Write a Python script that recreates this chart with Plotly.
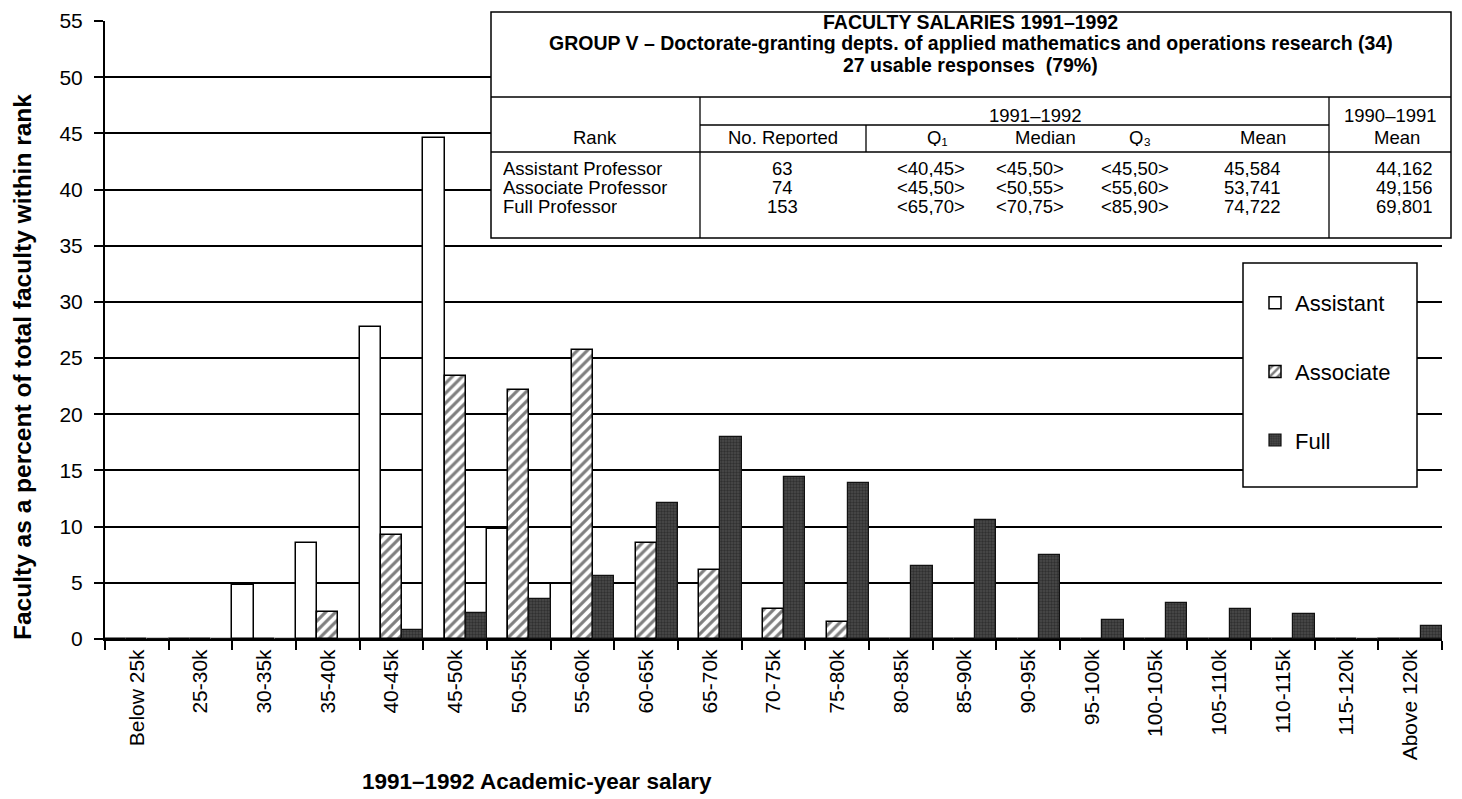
import plotly.graph_objects as go

# ---------------- data ----------------
categories = ["Below 25k", "25-30k", "30-35k", "35-40k", "40-45k", "45-50k", "50-55k",
              "55-60k", "60-65k", "65-70k", "70-75k", "75-80k", "80-85k", "85-90k",
              "90-95k", "95-100k", "100-105k", "105-110k", "110-115k", "115-120k",
              "Above 120k"]
assistant = [0, 0, 4.8, 8.5, 27.8, 44.6, 9.8, 4.9, 0, 0, 0, 0, 0, 0, 0, 0, 0, 0, 0, 0, 0]
associate = [0, 0, 0, 2.4, 9.3, 23.4, 22.2, 25.7, 8.5, 6.1, 2.7, 1.5, 0, 0, 0, 0, 0, 0, 0, 0, 0]
full = [0, 0, 0, 0, 0.8, 2.3, 3.6, 5.6, 12.1, 18.0, 14.4, 13.9, 6.5, 10.6, 7.5, 1.7,
        3.2, 2.7, 2.2, 0, 1.2]
y_ticks = [0, 5, 10, 15, 20, 25, 30, 35, 40, 45, 50, 55]

table_title = ["FACULTY SALARIES 1991\u20131992",
               "GROUP V \u2013 Doctorate-granting depts. of applied mathematics and operations research (34)",
               "27 usable responses  (79%)"]
table_ranks = ["Assistant Professor", "Associate Professor", "Full Professor"]
table_reported = ["63", "74", "153"]
table_q1 = ["<40,45>", "<45,50>", "<65,70>"]
table_median = ["<45,50>", "<50,55>", "<70,75>"]
table_q3 = ["<45,50>", "<55,60>", "<85,90>"]
table_mean = ["45,584", "53,741", "74,722"]
table_prev_mean = ["44,162", "49,156", "69,801"]

FONT = "Liberation Sans, Arial, Helvetica, sans-serif"

# ---------------- geometry helpers ----------------
# the page body has an 8px margin, so the figure is drawn 8px right/down
OFF = 8
W, H = 1462 - OFF, 799 - OFF
L, R, T, B = 105 - OFF, 1442 - OFF, 21 - OFF, 639 - OFF


def px_x(px):
    return (px - OFF - L) / (R - L)


def px_y(py):
    return (B - (py - OFF)) / (B - T)


fig = go.Figure()
fig.add_trace(go.Bar(
    x=categories, y=assistant, name="Assistant", legendgroup="a",
    marker=dict(color="white", line=dict(color="black", width=1.5)),
))
fig.add_trace(go.Bar(
    x=categories, y=associate, name="Associate", legendgroup="b",
    marker=dict(color="white", line=dict(color="black", width=1.5),
                pattern=dict(shape="/", fgcolor="black", bgcolor="white", size=7, solidity=0.45)),
))
fig.add_trace(go.Bar(
    x=categories, y=full, name="Full", legendgroup="c",
    marker=dict(color="#383838", line=dict(color="#111111", width=1.2),
                pattern=dict(shape=".", fgcolor="#141414", bgcolor="#4c4c4c", size=3, solidity=0.5)),
))

shapes = []
annotations = []

# table box and lines
tx0, tx1, ty0, ty1 = 491, 1451, 12, 238
shapes.append(dict(type="rect", xref="paper", yref="paper", layer="above",
                   x0=px_x(tx0), x1=px_x(tx1), y0=px_y(ty1), y1=px_y(ty0),
                   fillcolor="white", line=dict(color="black", width=1.5)))


def hline(x0, x1, y, w=1.3):
    shapes.append(dict(type="line", xref="paper", yref="paper", layer="above",
                       x0=px_x(x0), x1=px_x(x1), y0=px_y(y), y1=px_y(y),
                       line=dict(color="black", width=w)))


def vline(x, y0, y1, w=1.3):
    shapes.append(dict(type="line", xref="paper", yref="paper", layer="above",
                       x0=px_x(x), x1=px_x(x), y0=px_y(y0), y1=px_y(y1),
                       line=dict(color="black", width=w)))


hline(tx0, tx1, 97)
hline(700, 1329, 125)
hline(tx0, tx1, 152)
vline(700, 97, ty1)
vline(866, 125, 152)
vline(1329, 97, ty1)


def text(s, x, y, size=18.5, bold=False, xanchor="center", angle=0, h=None):
    d = dict(
        text=f"<b>{s}</b>" if bold else s, xref="paper", yref="paper",
        x=px_x(x), y=px_y(y), xanchor=xanchor, yanchor="middle", showarrow=False,
        textangle=angle, borderpad=0,
        font=dict(family=FONT, size=size, color="black"))
    if h is not None:
        d["height"] = h
    annotations.append(d)


for s, yy in zip(table_title, [23, 44, 65]):
    text(s, 971, yy, size=19.5, bold=True, h=20.5)

text("1991\u20131992", 1035, 115, h=18)
text("1990\u20131991", 1390, 115, h=18)
headers = [("Rank", 595), ("No. Reported", 783), ("Q\u2081", 937), ("Median", 1045),
           ("Q\u2083", 1140), ("Mean", 1263), ("Mean", 1397)]
for s, xx in headers:
    text(s, xx, 137, h=18)

row_y = [168, 187, 206]
for i, yy in enumerate(row_y):
    text(table_ranks[i], 502, yy, xanchor="left", h=18)
    text(table_reported[i], 783, yy, h=18)
    text(table_q1[i], 931, yy, h=18)
    text(table_median[i], 1030, yy, h=18)
    text(table_q3[i], 1135, yy, h=18)
    text(table_mean[i], 1252, yy, h=18)
    text(table_prev_mean[i], 1404, yy, h=18)

# legend box
shapes.append(dict(type="rect", xref="paper", yref="paper", layer="above",
                   x0=px_x(1243), x1=px_x(1417), y0=px_y(487), y1=px_y(263),
                   fillcolor="white", line=dict(color="black", width=1.5)))

# axis titles
text("Faculty as a percent of total faculty within rank", 22, 367, size=24.5, bold=True, angle=-90)
text("1991\u20131992 Academic-year salary", 537, 781, size=22.5, bold=True)

fig.update_layout(
    width=W, height=H,
    margin=dict(l=L, r=W - R, t=T, b=H - B),
    paper_bgcolor="white", plot_bgcolor="white",
    barmode="group", bargap=0, bargroupgap=0,
    font=dict(family=FONT, color="black"),
    shapes=shapes, annotations=annotations,
    showlegend=True,
    legend=dict(x=px_x(1255), y=px_y(282), xanchor="left", yanchor="top",
                bgcolor="rgba(0,0,0,0)", borderwidth=0,
                font=dict(family=FONT, size=22, color="black"),
                traceorder="grouped", tracegroupgap=37),
    xaxis=dict(type="category", showline=True, linecolor="black", linewidth=2,
               ticks="outside", tickson="boundaries", ticklen=9, tickwidth=1.5,
               tickcolor="black", tickangle=-90, showgrid=False, automargin=False,
               tickfont=dict(family=FONT, size=21, color="black")),
    yaxis=dict(range=[0, 55], tickvals=y_ticks, showline=True, linecolor="black",
               linewidth=2, ticks="outside", ticklen=9, tickwidth=1.5, tickcolor="black",
               showgrid=True, gridcolor="black", gridwidth=1.5, zeroline=False,
               ticklabelstandoff=7, automargin=False, ticklabeloverflow="allow",
               tickfont=dict(family=FONT, size=21, color="black")),
)

fig.write_html("out.html")
